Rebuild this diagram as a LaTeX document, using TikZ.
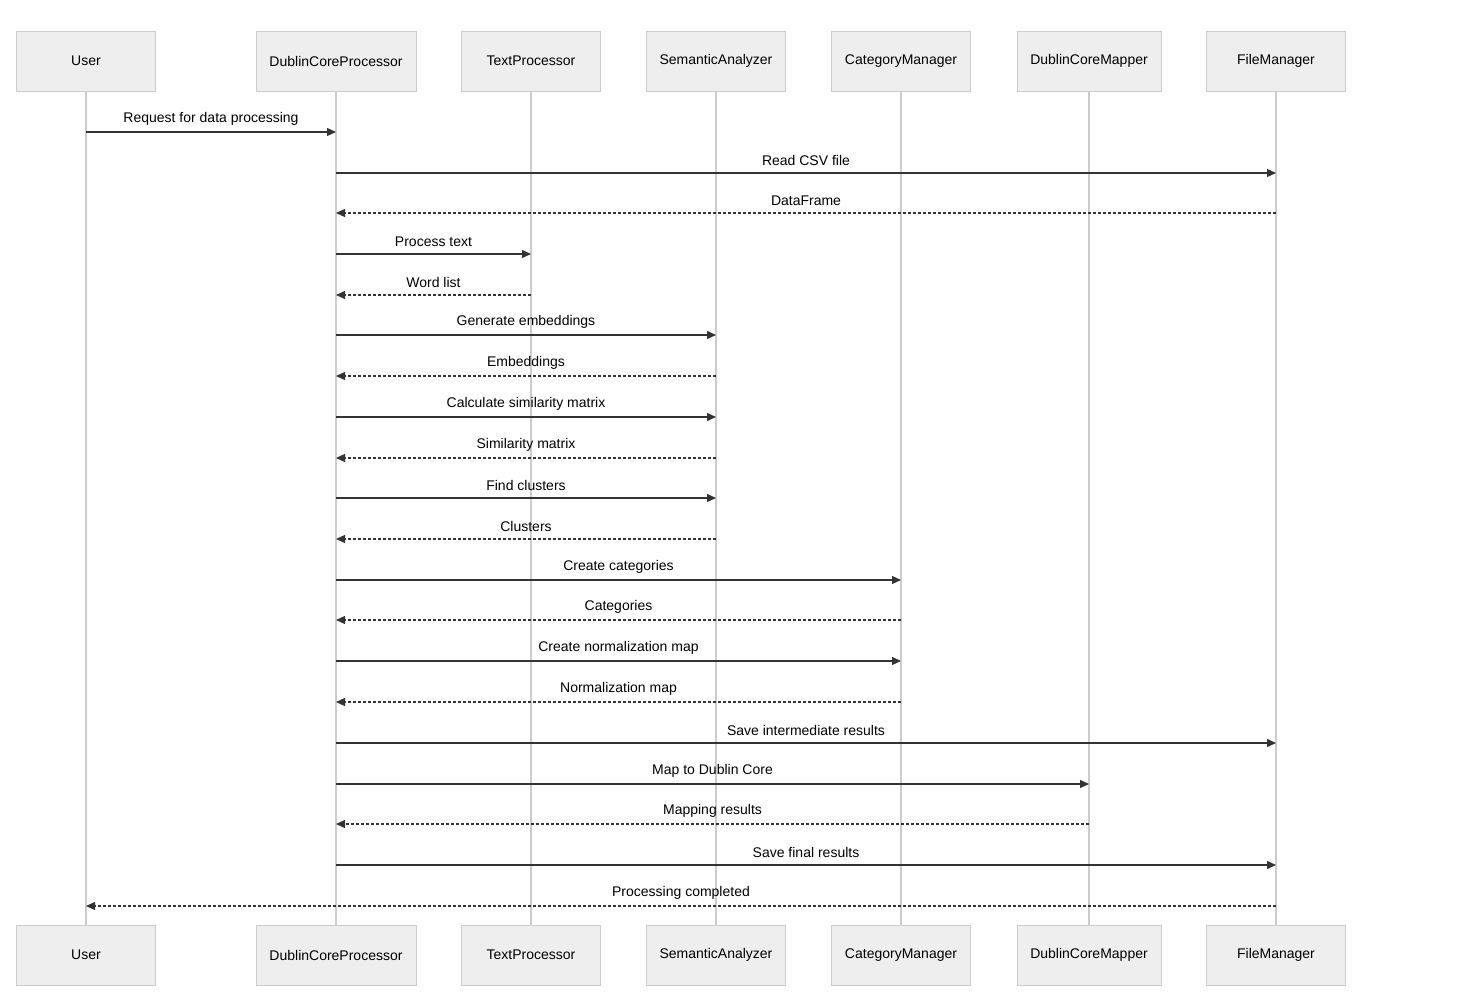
\documentclass[tikz,border=0pt]{standalone}
\usepackage{fontspec}
\setmainfont{Liberation Sans}
\usetikzlibrary{arrows.meta}
\definecolor{boxfill}{HTML}{EEEEEE}
\definecolor{boxline}{HTML}{CCCCCC}
\definecolor{msgline}{HTML}{333333}
\begin{document}
\begin{tikzpicture}[x=1pt,y=-1pt,
  actor/.style={rectangle, draw=boxline, fill=boxfill, minimum height=60pt, text centered, font=\fontsize{14}{16}\selectfont},
  life/.style={boxline, line width=1.2pt},
  msg/.style={msgline, line width=1.2pt, -{Triangle[length=9pt,width=8pt]}},
  reply/.style={msg, dash pattern=on 3pt off 2pt},
  lbl/.style={midway, above=3pt, font=\fontsize{14}{16}\selectfont, text=black}]
\useasboundingbox (0,0) rectangle (1461,1000);
% actors, top and bottom
\foreach \name/\txt/\x/\w in {user/User/86/139, proc/DublinCoreProcessor/336/160, text/TextProcessor/531/139, sem/SemanticAnalyzer/716/139, cat/CategoryManager/901/139, map/DublinCoreMapper/1089/144, file/FileManager/1276/139}{
  \node (\name top) at (\x,61) [actor, minimum width=\w pt] {\txt};
  \node (\name bot) at (\x,955) [actor, minimum width=\w pt] {\txt};
  \draw [life] (\name top) -- (\name bot);
}
% messages
\draw [msg] (usertop |- 0,132) -- (proctop |- 0,132) node [lbl] {Request for data processing};
\draw [msg] (proctop |- 0,173) -- (filetop |- 0,173) node [lbl] {Read CSV file};
\draw [reply] (filetop |- 0,213) -- (proctop |- 0,213) node [lbl] {DataFrame};
\draw [msg] (proctop |- 0,254) -- (texttop |- 0,254) node [lbl] {Process text};
\draw [reply] (texttop |- 0,295) -- (proctop |- 0,295) node [lbl] {Word list};
\draw [msg] (proctop |- 0,335) -- (semtop |- 0,335) node [lbl] {Generate embeddings};
\draw [reply] (semtop |- 0,376) -- (proctop |- 0,376) node [lbl] {Embeddings};
\draw [msg] (proctop |- 0,417) -- (semtop |- 0,417) node [lbl] {Calculate similarity matrix};
\draw [reply] (semtop |- 0,458) -- (proctop |- 0,458) node [lbl] {Similarity matrix};
\draw [msg] (proctop |- 0,498) -- (semtop |- 0,498) node [lbl] {Find clusters};
\draw [reply] (semtop |- 0,539) -- (proctop |- 0,539) node [lbl] {Clusters};
\draw [msg] (proctop |- 0,580) -- (cattop |- 0,580) node [lbl] {Create categories};
\draw [reply] (cattop |- 0,620) -- (proctop |- 0,620) node [lbl] {Categories};
\draw [msg] (proctop |- 0,661) -- (cattop |- 0,661) node [lbl] {Create normalization map};
\draw [reply] (cattop |- 0,702) -- (proctop |- 0,702) node [lbl] {Normalization map};
\draw [msg] (proctop |- 0,743) -- (filetop |- 0,743) node [lbl] {Save intermediate results};
\draw [msg] (proctop |- 0,784) -- (maptop |- 0,784) node [lbl] {Map to Dublin Core};
\draw [reply] (maptop |- 0,824) -- (proctop |- 0,824) node [lbl] {Mapping results};
\draw [msg] (proctop |- 0,865) -- (filetop |- 0,865) node [lbl] {Save final results};
\draw [reply] (filetop |- 0,906) -- (usertop |- 0,906) node [lbl] {Processing completed};
\end{tikzpicture}
\end{document}
